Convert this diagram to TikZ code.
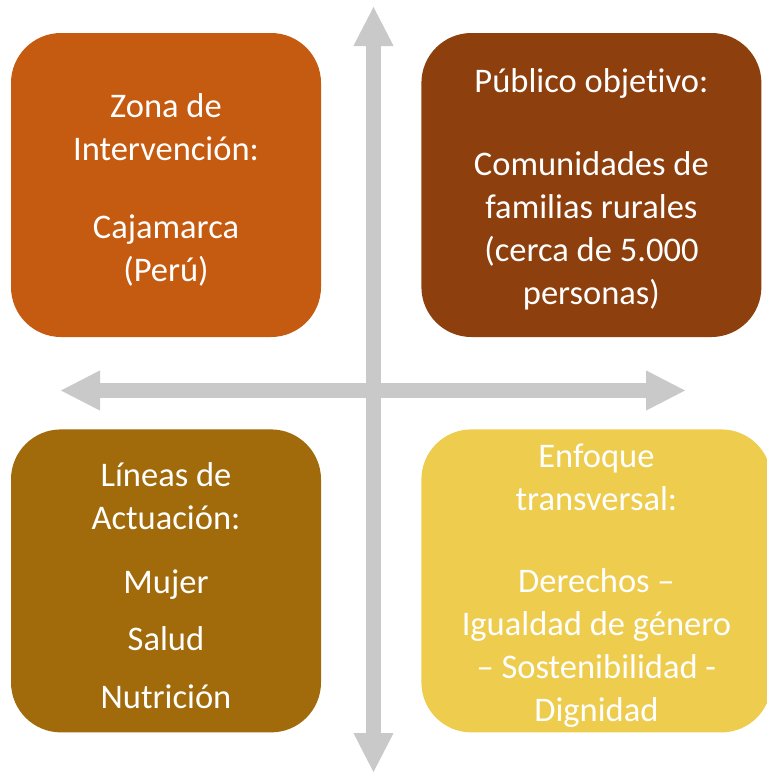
\documentclass[tikz,border=0pt]{standalone}
\usepackage{fontspec}
\setmainfont{Carlito}[Ligatures=NoCommon]
\usepackage{xcolor}
\usepackage{tikz}
\usetikzlibrary{arrows.meta, positioning}
\definecolor{zonacol}{HTML}{C55A11}
\definecolor{publicocol}{HTML}{8D3F0E}
\definecolor{lineascol}{HTML}{A16A0B}
\definecolor{enfoquecol}{HTML}{EDCC4E}
\definecolor{axiscol}{HTML}{C9C9C9}
\newcommand{\padtop}{\rule{0pt}{33pt}}
\tikzstyle{quad} = [rectangle, rounded corners=50pt, minimum height=304pt, inner sep=0pt, text centered, align=center, text=white, font=\fontsize{34.5}{43}\selectfont]
\tikzstyle{axis} = [draw=axiscol, line width=15pt, {Triangle[width=37pt,length=40pt]}-{Triangle[width=37pt,length=40pt]}, axiscol]

\begin{document}
\begin{tikzpicture}[x=1pt, y=-1pt, node distance=92pt and 100pt]
    \useasboundingbox (0,0) rectangle (767,774);

    \coordinate (top) at (373.5,6);
    \coordinate (bottom) at (373.5,773);
    \coordinate (left) at (60,390.5);
    \coordinate (right) at (686,390.5);
    \draw[axis] (top) -- (bottom);
    \draw[axis] (left) -- (right);

    \node[quad, fill=zonacol, minimum width=310pt] at (166,185) (zona) {\padtop Zona de\\Intervención:\\[35pt]Cajamarca\\(Perú)};
    \node[quad, fill=publicocol, minimum width=340pt, right=of zona] (publico) {\padtop Público objetivo:\\[40pt]Comunidades de\\familias rurales\\(cerca de 5.000\\personas)};
    \node[quad, fill=lineascol, minimum width=310pt, minimum height=303pt, below=of zona] (lineas) {\padtop Líneas de\\Actuación:\\[21pt]Mujer\\[14pt]Salud\\[15pt]Nutrición};
    \node[quad, fill=enfoquecol, minimum width=350pt, minimum height=303pt, right=of lineas] (enfoque) {\padtop Enfoque\\transversal:\\[39pt]Derechos –\\Igualdad de género\\– Sostenibilidad -\\Dignidad};
\end{tikzpicture}
\end{document}
